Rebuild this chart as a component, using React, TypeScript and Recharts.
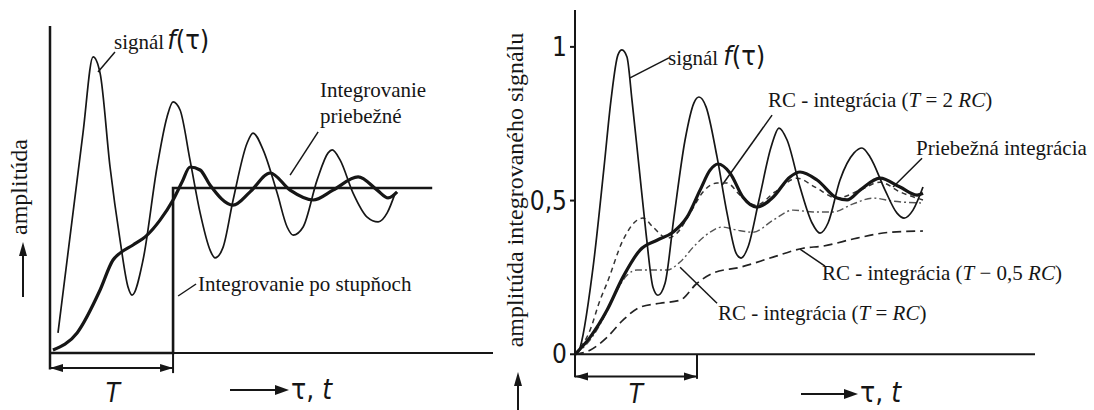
import { LineChart, Line, XAxis, YAxis, ReferenceLine, ReferenceDot } from 'recharts';

// ---- left panel (t in units of T, amplitude 0..1) ----
const lSignalT = [0.065, 0.268, 0.35, 0.407, 0.488, 0.569, 0.634, 0.667, 0.756, 0.87, 0.951, 1.0, 1.057, 1.138, 1.22, 1.301, 1.341, 1.407, 1.488, 1.602, 1.65, 1.732, 1.846, 1.927, 1.976, 2.057, 2.171, 2.26, 2.293, 2.358, 2.463, 2.577, 2.667, 2.74, 2.805];
const lSignalV = [0.067, 0.733, 0.987, 0.933, 0.62, 0.377, 0.22, 0.193, 0.31, 0.62, 0.787, 0.837, 0.81, 0.643, 0.467, 0.343, 0.317, 0.353, 0.51, 0.7, 0.733, 0.677, 0.533, 0.42, 0.393, 0.42, 0.577, 0.667, 0.677, 0.643, 0.533, 0.453, 0.437, 0.467, 0.533];
const lRunningT = [0.024, 0.22, 0.407, 0.512, 0.569, 0.675, 0.789, 0.894, 1.0, 1.073, 1.138, 1.22, 1.3, 1.488, 1.626, 1.789, 1.951, 2.138, 2.3, 2.504, 2.659, 2.748, 2.821];
const lRunningV = [0.01, 0.067, 0.21, 0.31, 0.333, 0.36, 0.393, 0.443, 0.51, 0.57, 0.62, 0.61, 0.56, 0.493, 0.537, 0.6, 0.543, 0.51, 0.543, 0.587, 0.543, 0.517, 0.537];
const lStepT = [0, 1, 1, 3.106];
const lStepV = [0, 0, 0.55, 0.55];

// ---- right panel ----
const rSignalT = [0, 0.033, 0.148, 0.238, 0.295, 0.352, 0.385, 0.426, 0.467, 0.525, 0.582, 0.639, 0.68, 0.738, 0.811, 0.902, 0.975, 1.016, 1.074, 1.164, 1.246, 1.32, 1.361, 1.418, 1.508, 1.607, 1.672, 1.738, 1.844, 1.943, 2.008, 2.074, 2.172, 2.287, 2.352, 2.418, 2.541, 2.639, 2.697, 2.77, 2.852];
const rSignalV = [0, 0.013, 0.283, 0.609, 0.827, 0.974, 0.99, 0.967, 0.827, 0.609, 0.394, 0.218, 0.192, 0.231, 0.446, 0.697, 0.818, 0.837, 0.805, 0.642, 0.459, 0.329, 0.313, 0.349, 0.502, 0.674, 0.736, 0.697, 0.544, 0.427, 0.394, 0.427, 0.567, 0.655, 0.671, 0.642, 0.534, 0.459, 0.443, 0.469, 0.544];
const rRunningT = [0, 0.123, 0.262, 0.393, 0.533, 0.672, 0.803, 0.918, 1.025, 1.107, 1.172, 1.27, 1.377, 1.492, 1.623, 1.762, 1.844, 1.984, 2.148, 2.23, 2.336, 2.5, 2.664, 2.803, 2.852];
const rRunningV = [0, 0.055, 0.143, 0.251, 0.339, 0.371, 0.397, 0.446, 0.534, 0.599, 0.619, 0.59, 0.511, 0.479, 0.511, 0.577, 0.593, 0.567, 0.508, 0.502, 0.534, 0.573, 0.544, 0.518, 0.524];
const rc2T = [0, 0.123, 0.205, 0.262, 0.393, 0.508, 0.557, 0.639, 0.754, 0.836, 0.943, 1.049, 1.164, 1.246, 1.352, 1.484, 1.639, 1.82, 1.967, 2.148, 2.336, 2.5, 2.664, 2.852];
const rc2V = [0, 0.078, 0.176, 0.231, 0.371, 0.436, 0.443, 0.414, 0.378, 0.394, 0.459, 0.528, 0.557, 0.557, 0.518, 0.485, 0.528, 0.573, 0.544, 0.508, 0.534, 0.56, 0.528, 0.502];
const rc1T = [0, 0.123, 0.246, 0.344, 0.426, 0.508, 0.631, 0.754, 0.861, 0.984, 1.107, 1.205, 1.328, 1.459, 1.623, 1.787, 1.951, 2.115, 2.279, 2.443, 2.607, 2.852];
const rc1V = [0, 0.046, 0.127, 0.208, 0.257, 0.274, 0.274, 0.274, 0.3, 0.355, 0.397, 0.414, 0.404, 0.397, 0.436, 0.469, 0.463, 0.463, 0.489, 0.508, 0.498, 0.492];
const rcHalfT = [0, 0.123, 0.262, 0.393, 0.533, 0.697, 0.861, 1.0, 1.131, 1.352, 1.623, 1.869, 2.033, 2.311, 2.582, 2.852];
const rcHalfV = [0, 0.013, 0.055, 0.111, 0.153, 0.166, 0.176, 0.231, 0.264, 0.283, 0.316, 0.345, 0.352, 0.378, 0.397, 0.401];
const rTicks = [0, 0.5, 1];

const zip = (ts: number[], vs: number[]) => ts.map((t, i) => ({ t, v: vs[i] }));

const INK = '#161616';
const SERIF = 'Liberation Serif, Times New Roman, DejaVu Serif, serif';
const SANS = 'DejaVu Sans Condensed, DejaVu Sans, sans-serif';
const NARROW = 'Liberation Sans Narrow, DejaVu Sans Condensed, sans-serif';

const arrowL = (p: any) => <path d={`M${p.cx},${p.cy} l13,-4 l0,8 z`} fill={INK} />;
const arrowR = (p: any) => <path d={`M${p.cx},${p.cy} l-13,-4 l0,8 z`} fill={INK} />;

function Overlay() {
    const lbl = { style: { fontFamily: SERIF, fontSize: 21 }, fill: INK };
    const vlbl = { style: { fontFamily: SERIF, fontSize: 24 }, fill: INK };
    const fn = { style: { fontFamily: SANS, fontSize: 27 } };
    const it = { fontStyle: 'italic' as const };
    return (
        <svg width={1094} height={410} style={{ position: 'absolute', left: 0, top: 0, pointerEvents: 'none' }}>
            {/* left panel */}
            <text x={114} y={49} {...lbl}>signál<tspan {...fn} dx={3}><tspan {...it}>f</tspan>(τ)</tspan></text>
            <text x={320} y={97} {...lbl}>Integrovanie</text>
            <text x={320} y={123} {...lbl}>priebežné</text>
            <text x={198} y={291} {...lbl}>Integrovanie po stupňoch</text>
            <text x={0} y={0} {...vlbl} textAnchor="middle" dominantBaseline="central" transform="translate(19,187) rotate(-90)">amplitúda</text>
            <line x1={23} y1={297} x2={23} y2={254} stroke={INK} strokeWidth={2} />
            <path d="M23,242 l-4,14 l8,0 z" fill={INK} />
            <text x={113} y={402} fill={INK} textAnchor="middle" style={{ fontFamily: SANS, fontSize: 26, fontStyle: 'italic' }}>T</text>
            <line x1={230} y1={390} x2={276} y2={390} stroke={INK} strokeWidth={2} />
            <path d="M289,390 l-14,-5 l0,10 z" fill={INK} />
            <text x={291} y={399} fill={INK} style={{ fontFamily: SANS, fontSize: 28 }}>τ, <tspan {...it}>t</tspan></text>

            {/* right panel */}
            <text x={668} y={65} {...lbl}>signál<tspan {...fn} dx={5}><tspan {...it}>f</tspan>(τ)</tspan></text>
            <text x={768} y={107} {...lbl}>RC - integrácia (<tspan {...it}>T</tspan> = 2 <tspan {...it}>RC</tspan>)</text>
            <text x={916} y={155} {...lbl}>Priebežná integrácia</text>
            <text x={822} y={280} {...lbl}>RC - integrácia (<tspan {...it}>T</tspan> − 0,5 <tspan {...it}>RC</tspan>)</text>
            <text x={718} y={320} {...lbl}>RC - integrácia (<tspan {...it}>T</tspan> = <tspan {...it}>RC</tspan>)</text>
            <text x={0} y={0} {...vlbl} textAnchor="middle" dominantBaseline="central" transform="translate(515,190) rotate(-90)">amplitúda integrovaného signálu</text>
            <line x1={518} y1={410} x2={518} y2={384} stroke={INK} strokeWidth={2} />
            <path d="M518,372 l-4,14 l8,0 z" fill={INK} />
            <text x={636} y={403} fill={INK} textAnchor="middle" style={{ fontFamily: SANS, fontSize: 26, fontStyle: 'italic' }}>T</text>
            <line x1={801} y1={394} x2={846} y2={394} stroke={INK} strokeWidth={2} />
            <path d="M858,394 l-14,-5 l0,10 z" fill={INK} />
            <text x={860} y={402} fill={INK} style={{ fontFamily: SANS, fontSize: 28 }}>τ, <tspan {...it}>t</tspan></text>
        </svg>
    );
}

function LeftChart() {
    return (
        <div style={{ position: 'absolute', left: 0, top: 0 }}>
            <LineChart width={500} height={410} margin={{ top: 26, right: 7, left: 50, bottom: 27 }}>
                <XAxis type="number" dataKey="t" domain={[0, 3.6]} hide />
                <YAxis type="number" dataKey="v" domain={[-0.1, 1.09]} hide />
                {/* axes and T bracket */}
                <ReferenceLine segment={[{ x: 0, y: 0 }, { x: 3.6, y: 0 }]} stroke={INK} strokeWidth={2} />
                <ReferenceLine segment={[{ x: 0, y: -0.055 }, { x: 0, y: 1.09 }]} stroke={INK} strokeWidth={2.5} />
                <ReferenceLine segment={[{ x: 1, y: 0 }, { x: 1, y: -0.067 }]} stroke={INK} strokeWidth={2} />
                <ReferenceLine segment={[{ x: 0, y: -0.05 }, { x: 1, y: -0.05 }]} stroke={INK} strokeWidth={2} />
                <ReferenceDot x={0} y={-0.05} r={0} shape={arrowL} />
                <ReferenceDot x={1} y={-0.05} r={0} shape={arrowR} />
                {/* leader lines */}
                <ReferenceLine segment={[{ x: 0.39, y: 0.937 }, { x: 0.528, y: 1.003 }]} stroke={INK} strokeWidth={1.5} />
                <ReferenceLine segment={[{ x: 2.179, y: 0.737 }, { x: 1.951, y: 0.593 }]} stroke={INK} strokeWidth={1.5} />
                <ReferenceLine segment={[{ x: 1.041, y: 0.19 }, { x: 1.187, y: 0.23 }]} stroke={INK} strokeWidth={1.5} />
                <Line data={zip(lStepT, lStepV)} dataKey="v" type="linear" stroke={INK} strokeWidth={2.6} dot={false} isAnimationActive={false} />
                <Line data={zip(lSignalT, lSignalV)} dataKey="v" type="monotone" stroke={INK} strokeWidth={1.7} dot={false} isAnimationActive={false} />
                <Line data={zip(lRunningT, lRunningV)} dataKey="v" type="monotone" stroke={INK} strokeWidth={3.2} dot={false} isAnimationActive={false} />
            </LineChart>
        </div>
    );
}

function RightChart() {
    return (
        <div style={{ position: 'absolute', left: 480, top: 0 }}>
            <LineChart width={614} height={410} margin={{ top: 10, right: 59, left: 55, bottom: 25 }}>
                <XAxis type="number" dataKey="t" domain={[0, 3.77]} hide />
                <YAxis
                    type="number"
                    dataKey="v"
                    domain={[-0.1, 1.12]}
                    ticks={rTicks}
                    width={40}
                    axisLine={false}
                    tickLine={{ stroke: INK, strokeWidth: 2 }}
                    tickSize={5}
                    tickMargin={3}
                    tickFormatter={(v: number) => String(v).replace('.', ',')}
                    tick={{ fill: INK, fontSize: 26, fontFamily: NARROW }}
                />
                <ReferenceLine segment={[{ x: 0, y: 0 }, { x: 3.77, y: 0 }]} stroke={INK} strokeWidth={2} />
                <ReferenceLine segment={[{ x: 0, y: -0.075 }, { x: 0, y: 1.12 }]} stroke={INK} strokeWidth={2} />
                <ReferenceLine segment={[{ x: 1, y: 0 }, { x: 1, y: -0.08 }]} stroke={INK} strokeWidth={2} />
                <ReferenceLine segment={[{ x: 0, y: -0.072 }, { x: 1, y: -0.072 }]} stroke={INK} strokeWidth={2} />
                <ReferenceDot x={0} y={-0.072} r={0} shape={arrowL} />
                <ReferenceDot x={1} y={-0.072} r={0} shape={arrowR} />
                {/* leader lines */}
                <ReferenceLine segment={[{ x: 0.451, y: 0.899 }, { x: 0.77, y: 0.964 }]} stroke={INK} strokeWidth={1.5} />
                <ReferenceLine segment={[{ x: 1.615, y: 0.778 }, { x: 1.205, y: 0.55 }]} stroke={INK} strokeWidth={1.5} />
                <ReferenceLine segment={[{ x: 2.844, y: 0.638 }, { x: 2.607, y: 0.544 }]} stroke={INK} strokeWidth={1.5} />
                <ReferenceLine segment={[{ x: 1.844, y: 0.342 }, { x: 2.049, y: 0.287 }]} stroke={INK} strokeWidth={1.5} />
                <ReferenceLine segment={[{ x: 0.861, y: 0.283 }, { x: 1.164, y: 0.166 }]} stroke={INK} strokeWidth={1.5} />
                <Line data={zip(rcHalfT, rcHalfV)} dataKey="v" type="monotone" stroke="#222" strokeWidth={1.7} strokeDasharray="9 5" dot={false} isAnimationActive={false} />
                <Line data={zip(rc1T, rc1V)} dataKey="v" type="monotone" stroke="#555" strokeWidth={1.4} strokeDasharray="7 3 2 3" dot={false} isAnimationActive={false} />
                <Line data={zip(rc2T, rc2V)} dataKey="v" type="monotone" stroke="#333" strokeWidth={1.5} strokeDasharray="5 4" dot={false} isAnimationActive={false} />
                <Line data={zip(rSignalT, rSignalV)} dataKey="v" type="monotone" stroke={INK} strokeWidth={1.7} dot={false} isAnimationActive={false} />
                <Line data={zip(rRunningT, rRunningV)} dataKey="v" type="monotone" stroke={INK} strokeWidth={3.2} dot={false} isAnimationActive={false} />
            </LineChart>
        </div>
    );
}

export default function App() {
    return (
        <div style={{ position: 'absolute', left: 0, top: 0, width: 1094, height: 410, background: '#fff' }}>
            <LeftChart />
            <RightChart />
            <Overlay />
        </div>
    );
}
